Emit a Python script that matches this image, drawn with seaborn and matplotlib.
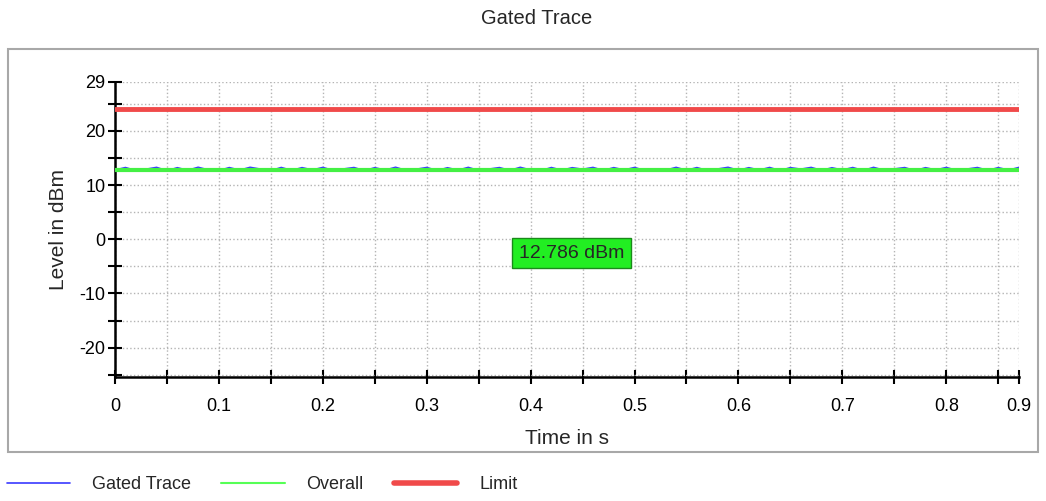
import numpy as np
import pandas as pd
import matplotlib.pyplot as plt
import seaborn as sns
from matplotlib.patches import Rectangle
from matplotlib.lines import Line2D

# gated trace samples (dBm), one every 10 ms
gated_values = [
    12.79, 13.25, 12.70, 12.95, 13.28, 12.66, 13.22, 12.74, 13.30, 12.81,
    12.69, 13.24, 12.77, 13.29, 12.96, 12.68, 13.26, 12.72, 13.23, 12.80,
    13.27, 12.71, 12.99, 13.25, 12.67, 13.22, 12.78, 13.30, 12.73, 12.94,
    13.26, 12.70, 13.21, 12.76, 13.28, 12.69, 12.97, 13.24, 12.72, 13.29,
    12.79, 12.68, 13.25, 12.75, 13.22, 12.93, 13.27, 12.71, 13.23, 12.80,
    13.26, 12.69, 13.00, 12.77, 13.28, 12.74, 13.24, 12.70, 12.98, 13.29,
    12.73, 13.22, 12.78, 13.26, 12.68, 13.23, 12.95, 13.27, 12.72, 13.21,
    12.79, 13.25, 12.70, 13.28, 12.76, 12.99, 13.24, 12.67, 13.22, 12.81,
    13.26, 12.73, 12.97, 13.25, 12.71, 13.23, 12.78, 13.27,
]
overall_level = 12.786
limit_level = 24.0
x_max = 0.87
y_min, y_max = -25.4, 29

x_ticks = [0, 0.05, 0.1, 0.15, 0.2, 0.25, 0.3, 0.35, 0.4, 0.45,
           0.5, 0.55, 0.6, 0.65, 0.7, 0.75, 0.8, 0.85, x_max]
x_labels = ["0", "", "0.1", "", "0.2", "", "0.3", "", "0.4", "",
            "0.5", "", "0.6", "", "0.7", "", "0.8", "", "0.9"]
y_ticks = [-25, -20, -15, -10, -5, 0, 5, 10, 15, 20, 25, 29]
y_labels = ["", "-20", "", "-10", "", "0", "", "10", "", "20", "", "29"]

time = np.linspace(0, x_max, len(gated_values))
df = pd.DataFrame({
    "time": time,
    "gated": gated_values,
    "overall": overall_level,
    "limit": limit_level,
})

sns.set_style("white")
plt.rcParams["font.family"] = ["Liberation Sans", "DejaVu Sans"]

fig = plt.figure(figsize=(10.46, 5.01), dpi=100)
ax = fig.add_axes([115 / 1046, 1 - 377 / 501, (1019 - 115) / 1046, (377 - 82) / 501])

blue = "#3a3aff"
green = "#44f044"
red = "#f04a4a"

sns.lineplot(x="time", y="gated", data=df, color=blue, lw=1, ax=ax, zorder=2)
sns.lineplot(x="time", y="overall", data=df, color=green, lw=3, ax=ax, zorder=3)
sns.lineplot(x="time", y="limit", data=df, color=red, lw=3.5, ax=ax, zorder=3)

ax.set_xlim(0, x_max)
ax.set_ylim(y_min, y_max)
ax.set_xticks(x_ticks)
ax.set_xticklabels(x_labels, fontsize=13)
ax.set_yticks(y_ticks)
ax.set_yticklabels(y_labels, fontsize=13)
ax.tick_params(bottom=True, left=True, direction="inout", length=10, width=1.5,
               colors="black")
ax.tick_params(axis="x", pad=10)
ax.tick_params(axis="y", pad=2)
ax.grid(True, linestyle=":", color="#b4b4b4", lw=1)

for side in ["top", "right"]:
    ax.spines[side].set_visible(False)
for side in ["left", "bottom"]:
    ax.spines[side].set_color("black")
    ax.spines[side].set_linewidth(1.8)

ax.set_xlabel("Time in s", fontsize=15, labelpad=10)
ax.set_ylabel("Level in dBm", fontsize=15, labelpad=8)

ax.text(0.447, 0.42, f"{overall_level:.3f} dBm", transform=ax.transAxes,
        fontsize=14, va="center", ha="left", zorder=5,
        bbox=dict(boxstyle="square,pad=0.35", facecolor="#22ee22", edgecolor="#1a8a1a", lw=1))

fig.text(537 / 1046, 1 - 18 / 501, "Gated Trace", ha="center", va="center", fontsize=14.5)

fig.patches.append(Rectangle((8 / 1046, 1 - 452 / 501), (1038 - 8) / 1046, (452 - 49) / 501,
                             transform=fig.transFigure, fill=False,
                             edgecolor="#a8a8a8", lw=1.5, zorder=0))

handles = [Line2D([], [], color=blue, lw=1.2),
           Line2D([], [], color="#55ff55", lw=1.5),
           Line2D([], [], color=red, lw=4)]
fig.legend(handles, ["Gated Trace", "Overall", "Limit"], loc="lower left",
           bbox_to_anchor=(-0.009, -0.017), ncol=3, frameon=False, fontsize=13,
           handlelength=3.5, handletextpad=1.2, columnspacing=1.7)

plt.savefig("out.png", dpi=100)
